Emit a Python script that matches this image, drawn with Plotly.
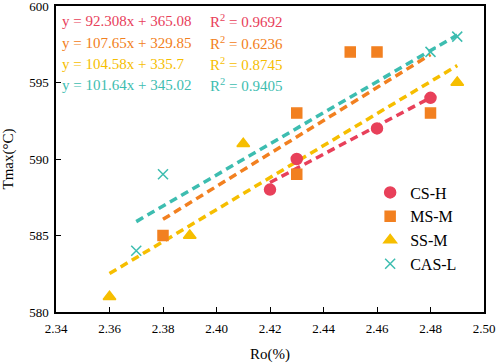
import plotly.graph_objects as go

names = ["CS-H", "MS-M", "SS-M", "CAS-L"]
colors = ["#E8405A", "#F28020", "#F6BE00", "#3DBDB0"]
symbols = ["circle", "square", "triangle-up", "x-thin"]

cs_h_x = [2.42, 2.43, 2.46, 2.48]
cs_h_y = [588, 590, 592, 594]
ms_m_x = [2.38, 2.43, 2.43, 2.45, 2.46, 2.48]
ms_m_y = [585, 593, 589, 597, 597, 593]
ss_m_x = [2.36, 2.39, 2.41, 2.49]
ss_m_y = [581, 585, 591, 595]
cas_l_x = [2.37, 2.38, 2.48, 2.49]
cas_l_y = [584, 589, 597, 598]

slopes = [92.308, 107.65, 104.58, 101.64]
intercepts = [365.08, 329.85, 335.7, 345.02]
eq_labels = ["y = 92.308x + 365.08", "y = 107.65x + 329.85",
             "y = 104.58x + 335.7", "y = 101.64x + 345.02"]
r2_labels = ["0.9692", "0.6236", "0.8745", "0.9405"]

x_ticks = [2.34, 2.36, 2.38, 2.40, 2.42, 2.44, 2.46, 2.48, 2.50]
y_ticks = [580, 585, 590, 595, 600]

xs = [cs_h_x, ms_m_x, ss_m_x, cas_l_x]
ys = [cs_h_y, ms_m_y, ss_m_y, cas_l_y]

font = "Liberation Serif, Times New Roman, serif"
fig = go.Figure()

# trend lines
for i in range(4):
    x0, x1 = min(xs[i]), max(xs[i])
    fig.add_trace(go.Scatter(
        x=[x0, x1], y=[slopes[i] * x0 + intercepts[i], slopes[i] * x1 + intercepts[i]],
        mode="lines", line=dict(color=colors[i], width=3.5, dash="8px,5px"),
        showlegend=False, hoverinfo="skip"))

# markers
sizes = [11, 10, 11, 10]
for i in range(4):
    fig.add_trace(go.Scatter(
        x=xs[i], y=ys[i], mode="markers", name=names[i],
        marker=dict(symbol=symbols[i], size=sizes[i], color=colors[i],
                    line=dict(color=colors[i], width=1.5))))

ypos = [0.951, 0.879, 0.810, 0.741]
for i in range(4):
    fig.add_annotation(x=0.009, y=ypos[i], xref="x domain", yref="y domain",
                       text=eq_labels[i], showarrow=False, xanchor="left", yanchor="middle",
                       font=dict(family=font, size=15, color=colors[i]))
    fig.add_annotation(x=0.355, y=ypos[i], xref="x domain", yref="y domain",
                       text="R<sup>2</sup> = " + r2_labels[i], showarrow=False,
                       xanchor="left", yanchor="middle",
                       font=dict(family=font, size=15, color=colors[i]))

axis_common = dict(showline=True, linecolor="black", linewidth=1.5, mirror=True,
                   ticks="inside", ticklen=5, tickcolor="black", showgrid=False,
                   zeroline=False, automargin=False, ticklabeloverflow="allow",
                   tickfont=dict(family=font, size=13, color="black"))
fig.update_xaxes(range=[2.34, 2.50], tickvals=x_ticks,
                 ticktext=[f"{v:.2f}" for v in x_ticks], ticklabelstandoff=4,
                 title=dict(text="Ro(%)", font=dict(family=font, size=15, color="black"), standoff=13),
                 **axis_common)
fig.update_yaxes(range=[580, 600], tickvals=y_ticks, ticklabelstandoff=3,
                 title=dict(text="Tmax(°C)", font=dict(family=font, size=15, color="black"), standoff=15),
                 **axis_common)

fig.update_layout(
    width=498, height=364, margin=dict(l=56, r=14, t=6, b=52),
    plot_bgcolor="white", paper_bgcolor="white",
    legend=dict(x=0.734, y=0.446, xanchor="left", yanchor="top",
                font=dict(family=font, size=16, color="black"),
                bgcolor="rgba(0,0,0,0)"),
)
fig.write_html("out.html", config={"displayModeBar": False},
               post_script="document.body.style.margin='0';")
